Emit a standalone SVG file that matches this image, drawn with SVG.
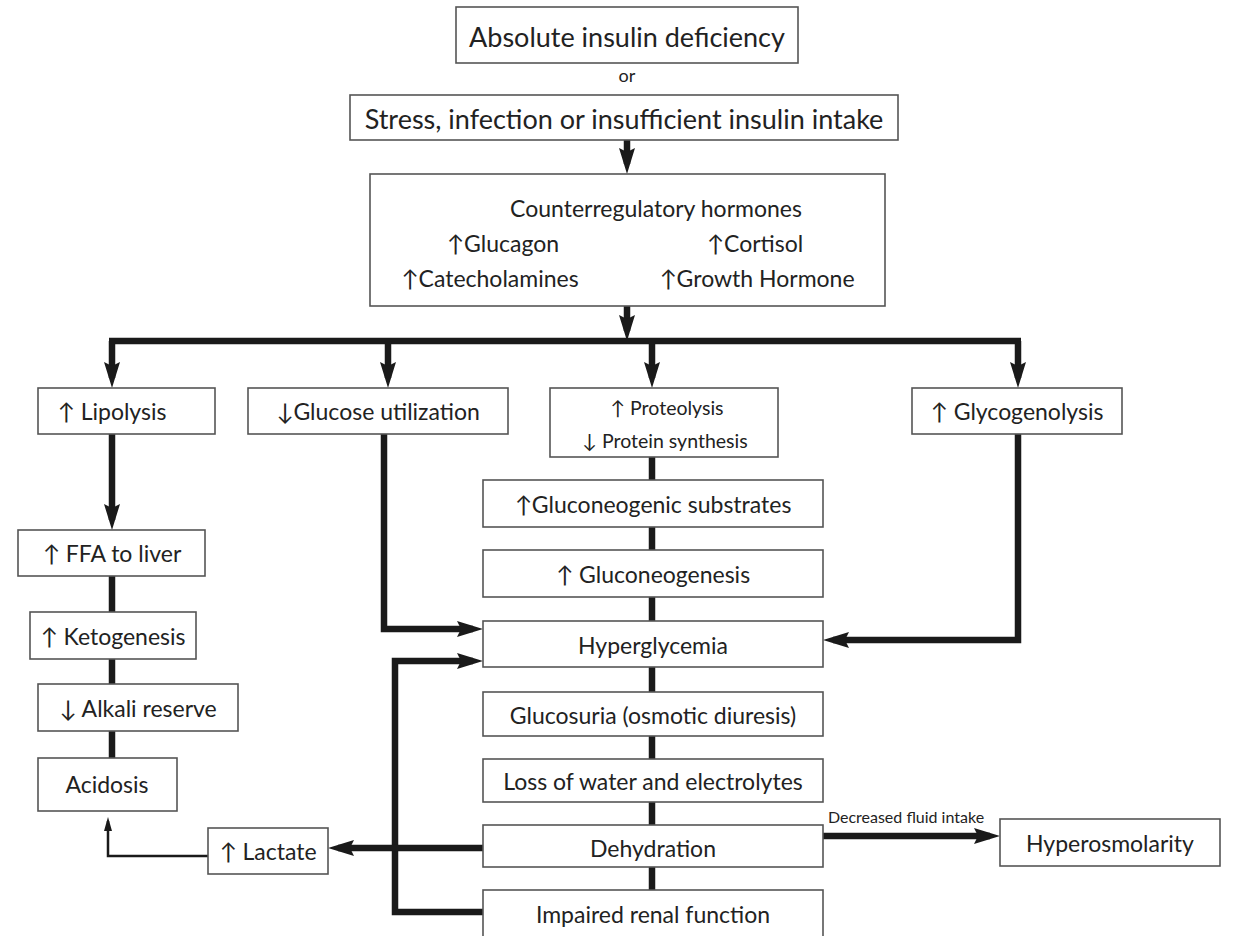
<svg xmlns="http://www.w3.org/2000/svg" width="1233" height="936" viewBox="0 0 1233 936">
<style>
.box{fill:#fff;stroke:#555;stroke-width:1.6}
text{font-family:Lato,"Open Sans","Liberation Sans",sans-serif;fill:#222;text-anchor:middle;dominant-baseline:central}
.big{font-size:27px}
.md{font-size:23px}
.sm{font-size:19.5px}
.xs{font-size:16px}
.or{font-size:18px}
.c{fill:none;stroke:#1a1a1a;stroke-width:6.5}
.t{fill:none;stroke:#1a1a1a;stroke-width:2.5}
</style>
<defs>
<marker id="ah" markerUnits="userSpaceOnUse" markerWidth="26" markerHeight="16" refX="16" refY="8" orient="auto">
<path d="M0,0 L26,8 L0,16 L4,8 z" fill="#1a1a1a"/>
</marker>
<marker id="as" markerUnits="userSpaceOnUse" markerWidth="14" markerHeight="8" refX="10" refY="4" orient="auto">
<path d="M0,0 L14,4 L0,8 z" fill="#1a1a1a"/>
</marker>
</defs>
<rect width="1233" height="936" fill="#fff"/>
<g id="connectors">
<path class="c" d="M627,140 V164" marker-end="url(#ah)"/>
<path class="c" d="M627,306 V331" marker-end="url(#ah)"/>
<path class="c" d="M109,341 H1021"/>
<path class="c" d="M112,341 V378" marker-end="url(#ah)"/>
<path class="c" d="M388,341 V378" marker-end="url(#ah)"/>
<path class="c" d="M652,341 V378" marker-end="url(#ah)"/>
<path class="c" d="M1018,341 V378" marker-end="url(#ah)"/>
<path class="c" d="M112,434 V520" marker-end="url(#ah)"/>
<path class="c" d="M112,576 V612"/>
<path class="c" d="M112,659 V684"/>
<path class="c" d="M112,731 V758"/>
<path class="t" d="M208,856 H108 V821" marker-end="url(#as)"/>
<path class="c" d="M652,457 V480"/>
<path class="c" d="M652,527 V550"/>
<path class="c" d="M652,597 V621"/>
<path class="c" d="M652,667 V692"/>
<path class="c" d="M652,736 V759"/>
<path class="c" d="M652,802 V825"/>
<path class="c" d="M652,867 V890"/>
<path class="c" d="M384,434 V629 H473" marker-end="url(#ah)"/>
<path class="c" d="M1018,434 V640 H833" marker-end="url(#ah)"/>
<path class="c" d="M483,912 H395 V661 H473" marker-end="url(#ah)"/>
<path class="c" d="M483,848 H338" marker-end="url(#ah)"/>
<path class="c" d="M823,836 H990" marker-end="url(#ah)"/>
<text class="xs" x="906" y="816">Decreased fluid intake</text>
</g>
<g id="n-absolute"><rect class="box" x="456" y="7" width="342" height="56"/><text class="big" x="627" y="36">Absolute insulin deficiency</text></g>
<g id="n-or"><text class="or" x="627" y="75">or</text></g>
<g id="n-stress"><rect class="box" x="350" y="95" width="548" height="45"/><text class="big" x="624" y="118">Stress, infection or insufficient insulin intake</text></g>
<g id="n-counter"><rect class="box" x="370" y="174" width="515" height="132"/>
<text class="md" x="656" y="208">Counterregulatory hormones</text>
<text class="md" x="503" y="243">↑Glucagon</text>
<text class="md" x="755" y="243">↑Cortisol</text>
<text class="md" x="490" y="278">↑Catecholamines</text>
<text class="md" x="757" y="278">↑Growth Hormone</text></g>
<g id="n-lipolysis"><rect class="box" x="38" y="388" width="177" height="46"/><text class="md" x="112" y="411">↑ Lipolysis</text></g>
<g id="n-glucose"><rect class="box" x="248" y="388" width="260" height="46"/><text class="md" x="378" y="411">↓Glucose utilization</text></g>
<g id="n-proteo"><rect class="box" x="550" y="388" width="228" height="69"/><text class="sm" x="667" y="407">↑ Proteolysis</text><text class="sm" x="665" y="440">↓ Protein synthesis</text></g>
<g id="n-glyco"><rect class="box" x="912" y="388" width="210" height="46"/><text class="md" x="1017" y="411">↑ Glycogenolysis</text></g>
<g id="n-ffa"><rect class="box" x="18" y="530" width="187" height="46"/><text class="md" x="112" y="553">↑ FFA to liver</text></g>
<g id="n-keto"><rect class="box" x="30" y="612" width="166" height="47"/><text class="md" x="113" y="636">↑ Ketogenesis</text></g>
<g id="n-alkali"><rect class="box" x="38" y="684" width="200" height="47"/><text class="md" x="138" y="708">↓ Alkali reserve</text></g>
<g id="n-acidosis"><rect class="box" x="38" y="758" width="139" height="53"/><text class="md" x="107" y="784">Acidosis</text></g>
<g id="n-lactate"><rect class="box" x="208" y="828" width="120" height="46"/><text class="md" x="268" y="851">↑ Lactate</text></g>
<g id="n-gsub"><rect class="box" x="483" y="480" width="340" height="47"/><text class="md" x="653" y="504">↑Gluconeogenic substrates</text></g>
<g id="n-gneo"><rect class="box" x="483" y="550" width="340" height="47"/><text class="md" x="653" y="574">↑ Gluconeogenesis</text></g>
<g id="n-hyper"><rect class="box" x="483" y="621" width="340" height="46"/><text class="md" x="653" y="645">Hyperglycemia</text></g>
<g id="n-glucosuria"><rect class="box" x="483" y="692" width="340" height="44"/><text class="md" x="653" y="715">Glucosuria (osmotic diuresis)</text></g>
<g id="n-loss"><rect class="box" x="483" y="759" width="340" height="43"/><text class="md" x="653" y="781">Loss of water and electrolytes</text></g>
<g id="n-dehyd"><rect class="box" x="483" y="825" width="340" height="42"/><text class="md" x="653" y="848">Dehydration</text></g>
<g id="n-renal"><rect class="box" x="483" y="890" width="340" height="50"/><text class="md" x="653" y="914">Impaired renal function</text></g>
<g id="n-hyperosm"><rect class="box" x="1000" y="819" width="220" height="47"/><text class="md" x="1110" y="843">Hyperosmolarity</text></g>
</svg>
